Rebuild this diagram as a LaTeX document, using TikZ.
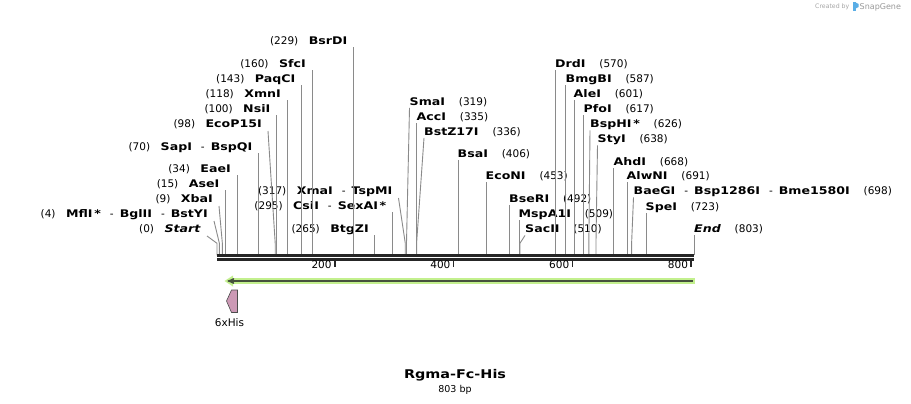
\documentclass[tikz,border=0pt]{standalone}
\usepackage{fontspec}
\setmainfont{DejaVu Sans}[BoldFeatures={FakeStretch=1.2},BoldItalicFeatures={FakeStretch=1.2}]
\usetikzlibrary{positioning}
\usetikzlibrary{arrows}

\definecolor{leadgray}{HTML}{8A8A8A}
\definecolor{bbgray}{HTML}{262626}
\definecolor{featgreen}{HTML}{C3F08E}
\definecolor{featdark}{HTML}{45513C}
\definecolor{hispink}{HTML}{CC99B5}
\definecolor{sgblue}{HTML}{5AAEE6}

\newcommand{\enzsep}{\hspace{9pt}-\hspace{6pt}}

\begin{document}
\begin{tikzpicture}[x=1pt,y=-1pt,>=stealth',
	enz/.style={font=\fontsize{10.5}{12}\selectfont,inner sep=0pt,
		text height=8pt,text depth=2.5pt},
	lft/.style={enz,anchor=east},
	rgt/.style={enz,anchor=west},
	lead/.style={draw=leadgray,line width=0.9pt},
	bbline/.style={draw=bbgray,line width=2.6pt},
	tick/.style={draw=bbgray,line width=1.6pt}]

	\useasboundingbox[fill=white] (0,0) rectangle (911,404);

	% cut sites on the backbone
	\foreach \p in {0,4,9,15,34,70,98,100,118,143,160,229,265,295,317,319,
		335,336,406,453,492,509,510,570,587,601,617,626,638,668,691,698,723,803}
		\coordinate (c\p) at ({217+0.594*\p},255.3);

	% enzymes left of their sites
	\node[lft] (start) at (201,230) {(0)\quad\textbf{\textit{Start}}};
	\node[lft] (mfli) at (208,215) {(4)\quad\textbf{MflI\,*}\enzsep\textbf{BglII}\enzsep\textbf{BstYI}};
	\node[lft] (xbai) at (213,200) {(9)\quad\textbf{XbaI}};
	\node[lft] (asei) at (219.5,184.5) {(15)\quad\textbf{AseI}};
	\node[lft] (eaei) at (231,170) {(34)\quad\textbf{EaeI}};
	\node[lft] (sapi) at (252.5,147.5) {(70)\quad\textbf{SapI}\enzsep\textbf{BspQI}};
	\node[lft] (ecop15i) at (262,125) {(98)\quad\textbf{EcoP15I}};
	\node[lft] (nsii) at (270.5,110) {(100)\quad\textbf{NsiI}};
	\node[lft] (xmni) at (281,95) {(118)\quad\textbf{XmnI}};
	\node[lft] (paqci) at (295.5,80) {(143)\quad\textbf{PaqCI}};
	\node[lft] (sfci) at (306,65) {(160)\quad\textbf{SfcI}};
	\node[lft] (bsrdi) at (347.5,42) {(229)\quad\textbf{BsrDI}};
	\node[lft] (btgzi) at (369,229.5) {(265)\quad\textbf{BtgZI}};
	\node[lft] (csii) at (386.5,207) {(295)\quad\textbf{CsiI}\enzsep\textbf{SexAI\,*}};
	\node[lft] (xmai) at (392.5,192) {(317)\quad\textbf{XmaI}\enzsep\textbf{TspMI}};

	% enzymes right of their sites
	\node[rgt] (smai) at (409.5,102.5) {\textbf{SmaI}\quad\ (319)};
	\node[rgt] (acci) at (416.5,117.5) {\textbf{AccI}\quad\ (335)};
	\node[rgt] (bstz17i) at (424,132.5) {\textbf{BstZ17I}\quad\ (336)};
	\node[rgt] (bsai) at (457.5,154.5) {\textbf{BsaI}\quad\ (406)};
	\node[rgt] (econi) at (485.5,177) {\textbf{EcoNI}\quad\ (453)};
	\node[rgt] (bseri) at (509,199.5) {\textbf{BseRI}\quad\ (492)};
	\node[rgt] (mspa1i) at (518.5,215) {\textbf{MspA1I}\quad\ (509)};
	\node[rgt] (sacii) at (525,230) {\textbf{SacII}\quad\ (510)};
	\node[rgt] (drdi) at (555,65) {\textbf{DrdI}\quad\ (570)};
	\node[rgt] (bmgbi) at (565.5,80) {\textbf{BmgBI}\quad\ (587)};
	\node[rgt] (alei) at (573.5,95) {\textbf{AleI}\quad\ (601)};
	\node[rgt] (pfoi) at (583.5,110) {\textbf{PfoI}\quad\ (617)};
	\node[rgt] (bsphi) at (590,125) {\textbf{BspHI\,*}\quad\ (626)};
	\node[rgt] (styi) at (597.5,140) {\textbf{StyI}\quad\ (638)};
	\node[rgt] (ahdi) at (613.5,162.5) {\textbf{AhdI}\quad\ (668)};
	\node[rgt] (alwni) at (626.5,177) {\textbf{AlwNI}\quad\ (691)};
	\node[rgt] (baegi) at (633.5,192) {\textbf{BaeGI}\enzsep\textbf{Bsp1286I}\enzsep\textbf{Bme1580I}\quad\ (698)};
	\node[rgt] (spei) at (645.5,207.5) {\textbf{SpeI}\quad\ (723)};
	\node[rgt] (endl) at (694,230) {\textbf{\textit{End}}\quad\ (803)};

	% leader lines
	\foreach \p/\n in {15/asei,34/eaei,70/sapi,100/nsii,118/xmni,143/paqci,160/sfci,
		229/bsrdi,265/btgzi,295/csii,335/acci,406/bsai,453/econi,492/bseri,509/mspa1i,
		570/drdi,587/bmgbi,601/alei,617/pfoi,668/ahdi,691/alwni,723/spei,803/endl}
		\draw[lead] (c\p) -- (c\p |- \n.south);
	\foreach \p/\n in {0/start,4/mfli,9/xbai,98/ecop15i,317/xmai}
		\draw[lead] (c\p) -- ++(0,-12) -- ([shift={(6,6)}]\n.east);
	\foreach \p/\n in {319/smai,336/bstz17i,510/sacii,626/bsphi,638/styi,698/baegi}
		\draw[lead] (c\p) -- ++(0,-12) -- (\n.south west);

	% backbone and scale
	\draw[bbline] (c0) -- (c803);
	\draw[bbline] ([shift={(0,4.3)}]c0) -- ([shift={(0,4.3)}]c803);
	\foreach \t in {200,400,600,800} {
		\draw[tick] ({216+0.594*\t},260) -- ++(0,7) coordinate (t\t);
		\node[enz,anchor=east] (l\t) at ([shift={(-3,-1.5)}]t\t) {\t};
	}

	% feature
	\coordinate (fr) at (695,281);
	\coordinate (fl) at (224.5,281);
	\draw[featgreen,line width=6.6pt] (fr) -- (231,281);
	\fill[featgreen] (fl) -- (233,275.5) -- (233,286.5) -- cycle;
	\draw[featdark,line width=1.3pt,->] ([shift={(-2.5,0)}]fr) -- ([shift={(3,0)}]fl);

	\draw[fill=hispink,draw=black!70,line width=0.6pt]
		(237.5,290) -- (231.5,290) -- (226.5,301) -- (231.5,312.5) -- (237.5,312.5) -- cycle;
	\coordinate (his) at (229.5,312.5);
	\node[enz,below=5.6pt of his] (hislbl) {6xHis};

	% title
	\node[font=\bfseries\fontsize{12}{15}\selectfont,inner sep=0pt,
		text height=9pt,text depth=2.5pt,anchor=base] (title) at (455,378) {Rgma-Fc-His};
	\node[font=\fontsize{9.5}{11}\selectfont,inner sep=0pt,
		text height=7pt,text depth=2pt,below=4.3pt of title] (len) {803 bp};

	% credit
	\node[font=\fontsize{6.2}{7}\selectfont,text=black!35,inner sep=0pt,anchor=east] (cby) at (849.5,7) {Created by};
	\fill[sgblue] (853,2.5) rectangle (855.5,11.5);
	\fill[sgblue] (855.5,2.5) -- (858.5,4) -- (858.5,7) -- (855.5,8.5) -- cycle;
	\node[font=\fontsize{8}{9}\selectfont,text=black!40,inner sep=0pt,anchor=west] (sg) at (859.5,7.5) {SnapGene};
\end{tikzpicture}
\end{document}
